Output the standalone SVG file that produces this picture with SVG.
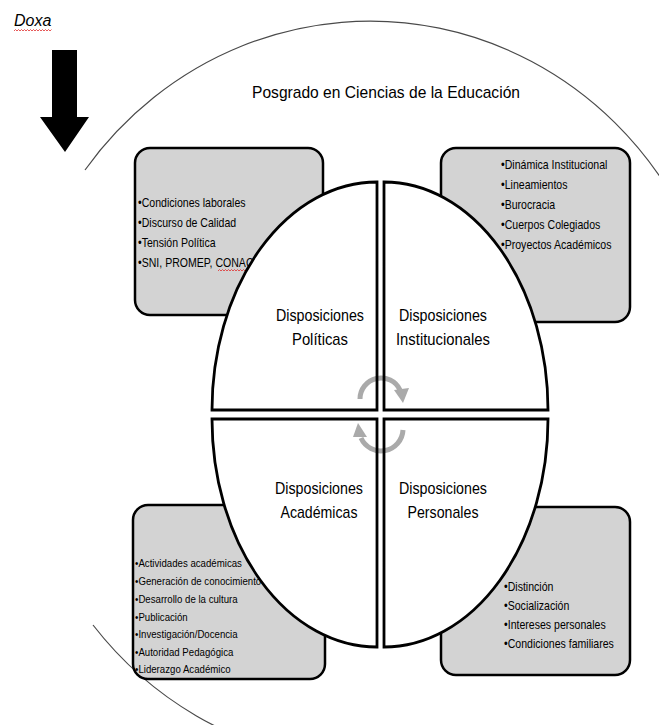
<svg xmlns="http://www.w3.org/2000/svg" width="659" height="725" viewBox="0 0 659 725">
<style>
.bg{fill:#ffffff}
.outer{fill:none;stroke:#4a4a4a;stroke-width:1.2}
.box{fill:#d3d3d3;stroke:#000;stroke-width:2.5}
.quad{fill:#ffffff;stroke:#000;stroke-width:2.8;stroke-linejoin:miter}
.item{font-family:"Liberation Sans",Arial,sans-serif;font-size:12px;fill:#000}
.item2{font-family:"Liberation Sans",Arial,sans-serif;font-size:11.5px;fill:#000}
.lbl{font-family:"Liberation Sans",Arial,sans-serif;font-size:17px;fill:#000;text-anchor:middle}
.title{font-family:"Liberation Sans",Arial,sans-serif;font-size:17px;fill:#000}
.doxa{font-family:"Liberation Sans",Arial,sans-serif;font-size:16px;font-style:italic;fill:#000}
.squig{fill:none;stroke:#e03030;stroke-width:0.8}
.cyc{fill:none;stroke:#000;stroke-width:5}
</style>
<rect class="bg" x="0" y="0" width="659" height="725"/>

<g id="outer-ellipse">
<path class="outer" d="M 85 170 A 356 371 0 0 1 715 300"/>
<path class="outer" d="M 93 625 A 356 371 0 0 0 325 760"/>
</g>

<g id="doxa">
<text class="doxa" x="14" y="26">Doxa</text>
<path class="squig" d="M14 31 l1.5 -1.5 l1.5 1.5 l1.5 -1.5 l1.5 1.5 l1.5 -1.5 l1.5 1.5 l1.5 -1.5 l1.5 1.5 l1.5 -1.5 l1.5 1.5 l1.5 -1.5 l1.5 1.5 l1.5 -1.5 l1.5 1.5 l1.5 -1.5 l1.5 1.5 l1.5 -1.5 l1.5 1.5 l1.5 -1.5 l1.5 1.5 l1.5 -1.5 l1.5 1.5 l1.5 -1.5 l1.5 1.5 l1.5 -1.5"/>
</g>

<g id="down-arrow">
<path d="M52 50 H77 V117 H89 L65 152 L40 117 H52 Z" fill="#000"/>
</g>

<g id="title">
<text class="title" x="252" y="98" textLength="268" lengthAdjust="spacingAndGlyphs">Posgrado en Ciencias de la Educación</text>
</g>

<g id="box-politicas">
<rect class="box" x="135" y="148" width="188" height="167" rx="15"/>
<g transform="translate(138 0) scale(0.88 1)">
<text class="item" x="0" y="207">•Condiciones laborales</text>
<text class="item" x="0" y="227">•Discurso de Calidad</text>
<text class="item" x="0" y="247">•Tensión Política</text>
<text class="item" x="0" y="267">•SNI, PROMEP, CONACyT</text>
</g>
<path class="squig" d="M218 271 l1.5 -1.5 l1.5 1.5 l1.5 -1.5 l1.5 1.5 l1.5 -1.5 l1.5 1.5 l1.5 -1.5 l1.5 1.5 l1.5 -1.5 l1.5 1.5 l1.5 -1.5 l1.5 1.5 l1.5 -1.5 l1.5 1.5 l1.5 -1.5 l1.5 1.5 l1.5 -1.5 l1.5 1.5 l1.5 -1.5 l1.5 1.5 l1.5 -1.5 l1.5 1.5"/>
</g>

<g id="box-institucionales">
<rect class="box" x="441" y="148" width="189" height="174" rx="15"/>
<g transform="translate(501 0) scale(0.88 1)">
<text class="item" x="0" y="169">•Dinámica Institucional</text>
<text class="item" x="0" y="189">•Lineamientos</text>
<text class="item" x="0" y="209">•Burocracia</text>
<text class="item" x="0" y="229">•Cuerpos Colegiados</text>
<text class="item" x="0" y="249">•Proyectos Académicos</text>
</g>
</g>

<g id="box-academicas">
<rect class="box" x="133" y="505" width="192" height="174" rx="15"/>
<g transform="translate(135 0) scale(0.84 1)">
<text class="item2" x="0" y="567">•Actividades académicas</text>
<text class="item2" x="0" y="585">•Generación de conocimiento</text>
<text class="item2" x="0" y="603">•Desarrollo de la cultura</text>
<text class="item2" x="0" y="621">•Publicación</text>
<text class="item2" x="0" y="638">•Investigación/Docencia</text>
<text class="item2" x="0" y="656">•Autoridad Pedagógica</text>
<text class="item2" x="0" y="673">•Liderazgo Académico</text>
</g>
</g>

<g id="box-personales">
<rect class="box" x="441" y="507" width="189" height="168" rx="15"/>
<g transform="translate(504 0) scale(0.88 1)">
<text class="item" x="0" y="591">•Distinción</text>
<text class="item" x="0" y="610">•Socialización</text>
<text class="item" x="0" y="629">•Intereses personales</text>
<text class="item" x="0" y="648">•Condiciones familiares</text>
</g>
</g>

<g id="quad-politicas">
<path class="quad" d="M377 410 L377 182 A165 228 0 0 0 212 410 Z"/>
<text class="lbl" x="320" y="321" textLength="88" lengthAdjust="spacingAndGlyphs">Disposiciones</text>
<text class="lbl" x="320" y="345" textLength="56" lengthAdjust="spacingAndGlyphs">Políticas</text>
</g>

<g id="quad-institucionales">
<path class="quad" d="M384 410 L384 182 A164 228 0 0 1 548 410 Z"/>
<text class="lbl" x="443" y="321" textLength="88" lengthAdjust="spacingAndGlyphs">Disposiciones</text>
<text class="lbl" x="443" y="345" textLength="94" lengthAdjust="spacingAndGlyphs">Institucionales</text>
</g>

<g id="quad-academicas">
<path class="quad" d="M377 419 L212 419 A165 228 0 0 0 377 647 Z"/>
<text class="lbl" x="319" y="494" textLength="88" lengthAdjust="spacingAndGlyphs">Disposiciones</text>
<text class="lbl" x="319" y="518" textLength="77" lengthAdjust="spacingAndGlyphs">Académicas</text>
</g>

<g id="quad-personales">
<path class="quad" d="M384 419 L384 647 A164 228 0 0 0 548 419 Z"/>
<text class="lbl" x="443" y="494" textLength="88" lengthAdjust="spacingAndGlyphs">Disposiciones</text>
<text class="lbl" x="443" y="518" textLength="71" lengthAdjust="spacingAndGlyphs">Personales</text>
</g>

<g id="connectors" opacity="0.33">
<path class="cyc" d="M360 399 A21 21 0 0 1 400 390"/>
<polygon points="394,390 409,388 403,403" fill="#000"/>
<path class="cyc" d="M403 430 A22 22 0 0 1 361 438"/>
<polygon points="353,437 367,437 358,423" fill="#000"/>
</g>
</svg>
